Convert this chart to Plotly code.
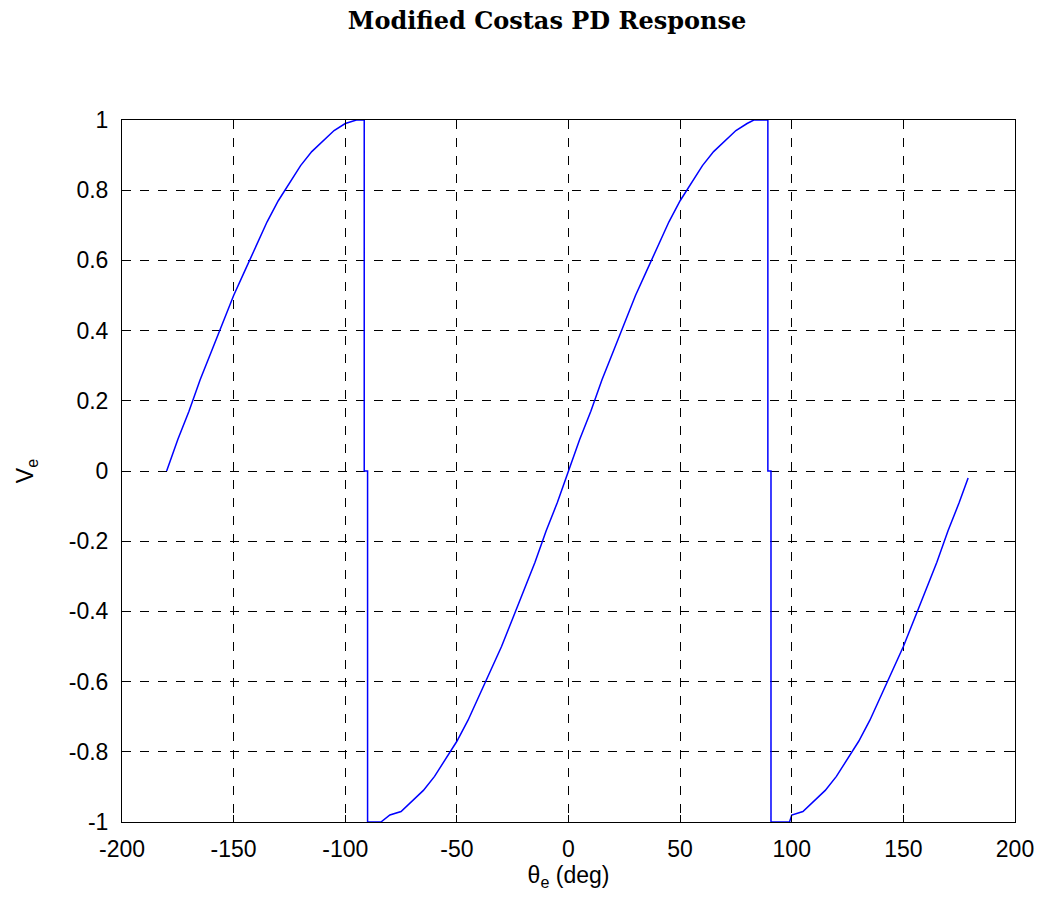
import plotly.graph_objects as go

# phase error (deg) and detector output
theta_e = [-180, -175, -170, -165, -160, -155, -150, -145, -140, -135, -130,
           -125, -120, -115, -110, -105, -100, -95, -91.5, -91.5, -90, -90,
           -84, -80, -75, -70, -65, -60, -55, -50, -45, -40, -35, -30, -25,
           -20, -15, -10, -5, 0, 5, 10, 15, 20, 25, 30, 35, 40, 45, 50, 55,
           60, 65, 70, 75, 80, 83, 89.3, 89.3, 90.7, 90.7, 99, 100, 105, 110,
           115, 120, 125, 130, 135, 140, 145, 150, 155, 160, 165, 170, 175, 179]
v_e = [0.0, 0.09, 0.17, 0.26, 0.34, 0.42, 0.5, 0.57, 0.64, 0.71, 0.77,
       0.82, 0.87, 0.91, 0.94, 0.97, 0.99, 1.0, 1.0, 0.0, 0.0, -1.0,
       -1.0, -0.98, -0.97, -0.94, -0.91, -0.87, -0.82, -0.77, -0.71, -0.64, -0.57, -0.5, -0.42,
       -0.34, -0.26, -0.17, -0.09, 0.0, 0.09, 0.17, 0.26, 0.34, 0.42, 0.5, 0.57, 0.64, 0.71, 0.77, 0.82,
       0.87, 0.91, 0.94, 0.97, 0.99, 1.0, 1.0, 0.0, 0.0, -1.0, -1.0, -0.98, -0.97, -0.94,
       -0.91, -0.87, -0.82, -0.77, -0.71, -0.64, -0.57, -0.5, -0.42, -0.34, -0.26, -0.17, -0.09, -0.02]

x_ticks = [-200, -150, -100, -50, 0, 50, 100, 150, 200]
y_ticks = [-1, -0.8, -0.6, -0.4, -0.2, 0, 0.2, 0.4, 0.6, 0.8, 1]

fig = go.Figure(go.Scatter(x=theta_e, y=v_e, mode="lines",
                           line=dict(color="#0000ff", width=1.5), showlegend=False))

font = dict(family="Liberation Sans", size=23, color="black")
axis_style = dict(showline=True, linecolor="black", linewidth=1, mirror="ticks",
                  ticks="inside", ticklen=7, tickcolor="black",
                  showgrid=True, gridcolor="black", griddash="dash", gridwidth=1,
                  zeroline=False, tickfont=font, automargin=False)

fig.update_xaxes(range=[-200, 200], tickvals=x_ticks, ticktext=[str(v) for v in x_ticks],
                 ticklabelstandoff=6,
                 title=dict(text="θ<sub>e</sub> (deg)", font=font, standoff=6),
                 **axis_style)
fig.update_yaxes(range=[-1, 1], tickvals=y_ticks, ticktext=[f"{v:g}" for v in y_ticks],
                 ticklabelstandoff=8,
                 title=dict(text="V<sub>e</sub>", font=font, standoff=28),
                 **axis_style)

fig.update_layout(
    width=1040, height=905,
    margin=dict(l=122, r=25, t=120, b=83),
    paper_bgcolor="white", plot_bgcolor="white",
    title=dict(text="<b>Modified Costas PD Response</b>", x=0.526, xanchor="center", y=1 - 21 / 905, yanchor="middle",
               font=dict(family="DejaVu Serif", size=24, color="black")),
)

fig.write_html("out.html", config={"displayModeBar": False},
               post_script="document.body.style.margin='0';document.body.style.overflow='hidden';")
